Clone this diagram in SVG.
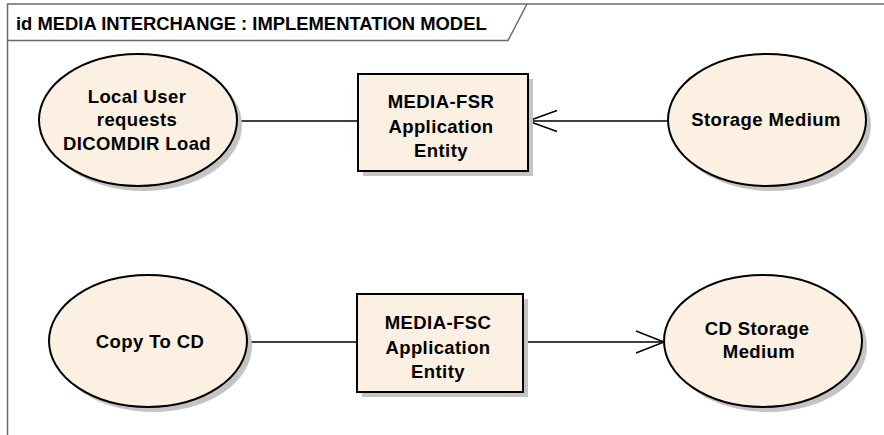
<svg xmlns="http://www.w3.org/2000/svg" width="884" height="435" viewBox="0 0 884 435">
<style>
.frame{fill:none;stroke:#6a6a6a;stroke-width:1.5}
.node{fill:#FBF0E2;stroke:#000;stroke-width:2}
.shadow{fill:#C4C4C4;stroke:none}
.conn{fill:none;stroke:#000;stroke-width:1.5}
.title{font-family:"Liberation Sans",Arial,sans-serif;font-weight:bold;font-size:18.4px;fill:#000}
.lbl{font-family:"Liberation Sans",Arial,sans-serif;font-weight:bold;font-size:18.5px;letter-spacing:0.4px;fill:#000;text-anchor:middle}
</style>
<rect width="884" height="435" fill="#fff"/>
<g id="frame">
  <path class="frame" d="M7.5,435 V4 H884"/>
  <path class="frame" d="M7.5,40.5 H508 L527,4"/>
  <text class="title" x="16" y="30">id MEDIA INTERCHANGE : IMPLEMENTATION MODEL</text>
</g>
<g id="connectors">
  <line class="conn" x1="237" y1="121" x2="358" y2="121"/>
  <line class="conn" x1="528" y1="121" x2="668" y2="121"/>
  <path class="conn" d="M557,110.5 L528,121 L557,131.5"/>
  <line class="conn" x1="247" y1="342" x2="357" y2="342"/>
  <line class="conn" x1="523" y1="342" x2="664" y2="342"/>
  <path class="conn" d="M636,331 L664,342 L636,353"/>
</g>
<g id="local-user">
  <ellipse class="shadow" cx="143" cy="125" rx="99" ry="66"/>
  <ellipse class="node" cx="138" cy="120" rx="99" ry="66"/>
  <text class="lbl" x="137" y="103">Local User</text>
  <text class="lbl" x="137" y="126">requests</text>
  <text class="lbl" x="137" y="150">DICOMDIR Load</text>
</g>
<g id="media-fsr">
  <rect class="shadow" x="363" y="79" width="170" height="97"/>
  <rect class="node" x="358" y="74" width="170" height="97"/>
  <text class="lbl" x="441" y="108">MEDIA-FSR</text>
  <text class="lbl" x="441" y="133">Application</text>
  <text class="lbl" x="441" y="157">Entity</text>
</g>
<g id="storage-medium">
  <ellipse class="shadow" cx="772" cy="125" rx="99" ry="66"/>
  <ellipse class="node" cx="767" cy="120" rx="99" ry="66"/>
  <text class="lbl" x="766" y="126">Storage Medium</text>
</g>
<g id="copy-to-cd">
  <ellipse class="shadow" cx="153" cy="346" rx="99" ry="66"/>
  <ellipse class="node" cx="148" cy="341" rx="99" ry="66"/>
  <text class="lbl" x="150" y="348">Copy To CD</text>
</g>
<g id="media-fsc">
  <rect class="shadow" x="362" y="299" width="166" height="98"/>
  <rect class="node" x="357" y="294" width="166" height="98"/>
  <text class="lbl" x="438" y="329">MEDIA-FSC</text>
  <text class="lbl" x="438" y="354">Application</text>
  <text class="lbl" x="438" y="378">Entity</text>
</g>
<g id="cd-storage-medium">
  <ellipse class="shadow" cx="768" cy="346" rx="99" ry="66"/>
  <ellipse class="node" cx="763" cy="341" rx="99" ry="66"/>
  <text class="lbl" x="757" y="335">CD Storage</text>
  <text class="lbl" x="759" y="358">Medium</text>
</g>
</svg>
